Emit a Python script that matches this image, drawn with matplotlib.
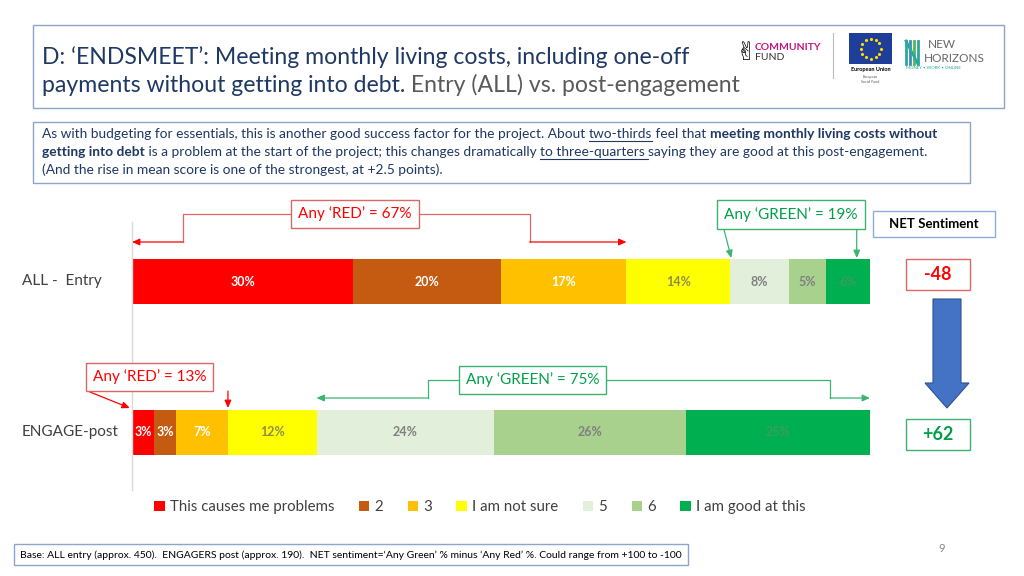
import matplotlib
matplotlib.use("Agg")
import matplotlib.pyplot as plt
import matplotlib.patches as mpatches
import numpy as np

plt.rcParams['font.family'] = ['Lato', 'DejaVu Sans']

# Data
categories = ['This causes me problems', '2', '3', 'I am not sure', '5', '6', 'I am good at this']
groups = ['ALL -  Entry', 'ENGAGE-post']
all_entry = [30, 20, 17, 14, 8, 5, 6]
engage_post = [3, 3, 7, 12, 24, 26, 25]
net_sentiment = ['-48', '+62']
any_red = [67, 13]
any_green = [19, 75]

colors = ['#FF0000', '#C55A11', '#FFC000', '#FFFF00', '#E2EFDA', '#A9D18E', '#00B050']
label_colors = ['white', 'white', 'white', '#8E8E4A', '#7F7F7F', '#7F7F7F', '#3A9E5E']

RED = '#FF0000'
RED_EDGE = '#E06666'
GREEN = '#00A04A'
GREEN_EDGE = '#3CB371'
NAVY = '#1F3864'
GREY = '#404040'

fig = plt.figure(figsize=(10.24, 5.76), dpi=100)

# chart axes: x in percent (0 -> px 132, 100 -> px 870), y in pixels
ax = fig.add_axes([0, 0, 1, 1])
scale = 7.38
ax.set_xlim(-132 / scale, (1024 - 132) / scale)
ax.set_ylim(576, 0)
ax.axis('off')

# overlay axes in pixel coords for page decoration
ov = fig.add_axes([0, 0, 1, 1], facecolor='none')
ov.set_xlim(0, 1024)
ov.set_ylim(576, 0)
ov.axis('off')

rows = [all_entry, engage_post]
row_y = [281.5, 432]
bar_h = 45

ax.plot([0, 0], [222, 490], color='#D9D9D9', lw=1)

for row, y in zip(rows, row_y):
    left = 0
    for i, v in enumerate(row):
        ax.barh(y, v, left=left, height=bar_h, color=colors[i],
                label=categories[i] if y == row_y[0] else None)
        ax.text(left + v / 2, y, f'{v}%', ha='center', va='center',
                fontsize=9, fontweight='bold', color=label_colors[i])
        left += v

for g, y in zip(groups, row_y):
    ov.text(22, y, g, ha='left', va='center', fontsize=11, color=GREY)

# legend
fig.legend(loc='center', bbox_to_anchor=(480 / 1024, 1 - 507 / 576), ncol=7,
           frameon=False, fontsize=10.8, handlelength=0.7, handleheight=0.7,
           handletextpad=0.35, columnspacing=1.62, labelcolor=GREY)


def box(axx, x, y, txt, tc, ec, size=11, weight='normal', pad=0.45):
    axx.text(x, y, txt, ha='center', va='center', fontsize=size, color=tc,
             fontweight=weight, zorder=5, clip_on=False,
             bbox=dict(boxstyle=f'square,pad={pad}', fc='white', ec=ec, lw=1))


def arrow(x0, y0, x1, y1, c):
    ax.annotate('', xy=(x1, y1), xytext=(x0, y0),
                arrowprops=dict(arrowstyle='-|>,head_length=0.45,head_width=0.2',
                                color=c, lw=0.9, shrinkA=0, shrinkB=0))


# ALL: Any RED bracket over 0..67
yb, ya = 214, 242
ax.plot([6.9, 6.9, 53.9, 53.9], [ya, yb, yb, ya], color=RED_EDGE, lw=0.9)
arrow(6.9, ya, 0, ya, RED)
arrow(53.9, ya, any_red[0], ya, RED)
box(ax, 30.2, yb, f"Any \u2018RED\u2019 = {any_red[0]}%", RED, RED_EDGE)

# ALL: Any GREEN box
arrow(80.2, 229, 100 - any_green[0] + 0.2, 258, GREEN_EDGE)
arrow(98.2, 229, 98.2, 258, GREEN_EDGE)
box(ax, 89.3, 214.5, f"Any \u2018GREEN\u2019 = {any_green[0]}%", GREEN, GREEN_EDGE)

# ENGAGE: Any RED box
arrow(-5.7, 392, -0.3, 408, RED)
arrow(any_red[1], 391, any_red[1], 408, RED)
box(ax, 2.4, 377, f"Any \u2018RED\u2019 = {any_red[1]}%", RED, RED_EDGE)

# ENGAGE: Any GREEN bracket over 25..100
yb, ya = 380, 398
ax.plot([40.1, 40.1, 94.6, 94.6], [ya, yb, yb, ya], color=GREEN_EDGE, lw=0.9)
arrow(40.1, ya, 100 - any_green[1], ya, GREEN_EDGE)
arrow(94.6, ya, 100, ya, GREEN_EDGE)
box(ax, 54.3, 380, f"Any \u2018GREEN\u2019 = {any_green[1]}%", GREEN, GREEN_EDGE)

# NET sentiment column
ov.add_patch(mpatches.Rectangle((873, 211), 122, 26, fc='white', ec='#8FAADC', lw=1))
ov.text(934, 224, 'NET Sentiment', ha='center', va='center', fontsize=9.5,
        fontweight='bold', color='black')
ov.add_patch(mpatches.Rectangle((906, 259), 64, 31, fc='white', ec=RED_EDGE, lw=1))
ov.text(938, 275, net_sentiment[0], ha='center', va='center', fontsize=13,
        fontweight='bold', color=RED)
ov.add_patch(mpatches.Rectangle((906, 419), 64, 31, fc='white', ec=GREEN_EDGE, lw=1))
ov.text(938, 435, net_sentiment[1], ha='center', va='center', fontsize=13,
        fontweight='bold', color=GREEN)
ov.add_patch(mpatches.FancyArrow(947, 299, 0, 109, width=28, head_width=44,
                                 head_length=25, length_includes_head=True,
                                 fc='#4472C4', ec='#2F528F', lw=0.8))

renderer = fig.canvas.get_renderer()


def seg_width(t):
    return t.get_window_extent(renderer=renderer).width


def rich_line(x, y, parts, size, color):
    for txt, style in parts:
        kw = dict(fontsize=size, color=style.get('c', color), va='center',
                  fontweight='bold' if style.get('b') else 'normal')
        ov.text(x, y, txt, **kw)
        probe = ov.text(0, 0, txt + '.', **kw)
        dot = ov.text(0, 0, '.', **kw)
        w = seg_width(probe) - seg_width(dot)
        probe.remove()
        dot.remove()
        if style.get('u'):
            ov.plot([x, x + w], [y + size * 0.72, y + size * 0.72], color=color, lw=0.8)
        x += w


# title box
ov.add_patch(mpatches.Rectangle((33, 25), 971, 83, fc='white', ec='#8EA4C8', lw=1, zorder=0))
ts = 16.6
rich_line(42, 57, [("D: \u2018ENDSMEET\u2019: Meeting monthly living costs, including one-off", {})],
          ts, NAVY)
rich_line(42, 85, [("payments without getting into debt.", {}),
                   (" Entry (ALL) vs. post-engagement", {'c': '#595959'})], ts, NAVY)

# logos (simplified)
ov.text(736, 52, '\u270c', fontsize=18, color='black', va='center', ha='left')
ov.text(755, 48, 'COMMUNITY', fontsize=7.5, fontweight='bold', color='#C0177F', va='center')
ov.text(755, 58, 'FUND', fontsize=7.5, color='#333333', va='center')
ov.plot([833, 833], [33, 78], color='#BBBBBB', lw=0.8)
ov.add_patch(mpatches.Rectangle((849, 33), 43, 31, fc='#1F3E9A', ec='none'))
ang = np.linspace(0, 2 * np.pi, 12, endpoint=False)
ov.scatter(870.5 + 10 * np.cos(ang), 48.5 + 10 * np.sin(ang), s=2, color='#FFDD00', marker='*')
ov.text(870.5, 69, 'European Union', fontsize=4, fontweight='bold', ha='center', va='center')
ov.text(870.5, 75, 'European\nSocial Fund', fontsize=2.6, ha='center', va='top', color='#555555')
for k, c in enumerate(['#2AA8A0', '#3C8DBC', '#55B848', '#2AA8A0']):
    ov.plot([906 + 4 * k, 906 + 4 * k], [41, 64], color=c, lw=2)
ov.plot([906, 918], [41, 64], color='#2AA8A0', lw=2)
ov.text(928, 44, 'NEW', fontsize=8.5, color='#666666', va='center')
ov.text(924, 58, 'HORIZONS', fontsize=8.5, color='#666666', va='center')
ov.text(906, 68, 'MONEY \u2022 WORK \u2022 ONLINE', fontsize=3.2, color='#2AA8A0', va='center')

# description box
ov.add_patch(mpatches.Rectangle((33, 122), 937, 61, fc='white', ec='#8EA4C8', lw=1, zorder=0))
ps = 9.9
rich_line(42, 134, [("As with budgeting for essentials, this is another good success factor for the project. About ", {}),
                    ("two-thirds", {'u': 1}), (" feel that ", {}),
                    ("meeting monthly living costs without", {'b': 1})], ps, NAVY)
rich_line(42, 152, [("getting into debt", {'b': 1}),
                    (" is a problem at the start of the project; this changes dramatically ", {}),
                    ("to three-quarters ", {'u': 1}),
                    ("saying they are good at this post-engagement.", {})], ps, NAVY)
rich_line(42, 170, [("(And the rise in mean score is one of the strongest, at +2.5 points).", {})], ps, NAVY)

# footer
ov.add_patch(mpatches.Rectangle((14, 544), 674, 21, fc='white', ec='#8EA4C8', lw=1, zorder=0))
ov.text(20, 555, "Base: ALL entry (approx. 450).  ENGAGERS post (approx. 190).  "
        "NET sentiment=\u2018Any Green\u2019 % minus \u2018Any Red\u2019 %. Could range from +100 to -100",
        fontsize=7.5, color='black', va='center')
ov.text(942, 548, '9', fontsize=8, color='#888888', ha='center', va='center')

fig.savefig('out.png', dpi=100)
